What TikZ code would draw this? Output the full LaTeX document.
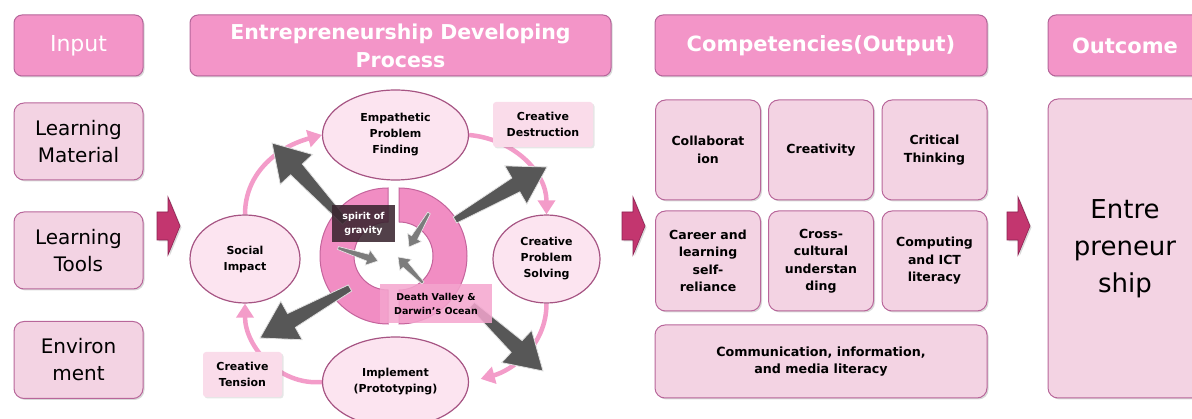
\documentclass[tikz,border=0pt]{standalone}
\usepackage{fontspec}
\setmainfont{DejaVu Sans}
\usetikzlibrary{calc,shapes.geometric,arrows.meta,shadows,backgrounds}

\definecolor{headfill}{HTML}{F395C8}
\definecolor{headline}{HTML}{B5659A}
\definecolor{itemfill}{HTML}{F3D3E3}
\definecolor{itemline}{HTML}{B8669A}
\definecolor{stagefill}{HTML}{FCE4F0}
\definecolor{stageline}{HTML}{A65483}
\definecolor{arcpink}{HTML}{F39CC9}
\definecolor{ringfill}{HTML}{F18DC3}
\definecolor{ringline}{HTML}{C4649C}
\definecolor{forcegray}{HTML}{575757}
\definecolor{pullgray}{HTML}{7C7C7C}
\definecolor{stepfill}{HTML}{C3366F}
\definecolor{stepline}{HTML}{8C2152}
\definecolor{tagfill}{HTML}{FADCEA}
\definecolor{gravfill}{HTML}{3A2530}
\definecolor{valefill}{HTML}{F4A5CE}

% tapered block arrow: [style]{tail}{tip}{tail half}{shaft half}{head half}{head length}
\newcommand{\forcearrow}[7][]{%
  \coordinate (fa-b) at ($(#3)!#7!(#2)$);
  \filldraw[#1] ($(#2)!#4!90:(#3)$) -- ($(fa-b)!#5!90:(#3)$) -- ($(fa-b)!#6!90:(#3)$) -- (#3)
    -- ($(fa-b)!#6!-90:(#3)$) -- ($(fa-b)!#5!-90:(#3)$) -- ($(#2)!#4!-90:(#3)$) -- cycle;
}

\begin{document}
\begin{tikzpicture}[x=1pt, y=1pt,
  head/.style={draw=headline, line width=1pt, fill=headfill, rounded corners=8pt, text=white,
    align=center, inner sep=0pt, drop shadow={shadow xshift=1.5pt, shadow yshift=-1.5pt, opacity=0.3}},
  item/.style={draw=itemline, line width=1pt, fill=itemfill, rounded corners=10pt, align=center,
    inner sep=0pt, drop shadow={shadow xshift=1.5pt, shadow yshift=-1.5pt, opacity=0.3}},
  skill/.style={item, font=\bfseries\fontsize{12.5}{17.5}\selectfont},
  stepper/.style={draw=stepline, fill=stepfill, line width=0.6pt,
    drop shadow={shadow xshift=1.5pt, shadow yshift=-1.5pt, opacity=0.3}},
  stage/.style={ellipse, draw=stageline, line width=1.2pt, fill=stagefill, align=center, inner sep=1pt,
    font=\bfseries\fontsize{11}{16}\selectfont},
  roundarc/.style={draw=arcpink, line width=4.5pt, -{Triangle[length=14pt, width=17pt]}},
  ring/.style={draw=ringline, line width=1pt, fill=ringfill},
  force/.style={fill=forcegray, draw=white!75!gray, line width=0.8pt},
  pull/.style={fill=pullgray, draw=white!85!gray, line width=0.6pt},
  tag/.style={fill=tagfill, rounded corners=3pt, align=center, inner sep=0pt, minimum height=45pt,
    font=\bfseries\fontsize{11}{16}\selectfont,
    drop shadow={shadow xshift=1.5pt, shadow yshift=-1.5pt, opacity=0.2}}]
  \useasboundingbox (0,0) rectangle (1192,-419);

  % ---- column headers ----
  \node[head, minimum width=129pt, minimum height=61pt, font=\fontsize{22}{26}\selectfont]
    (input) at (78.5,-45.5) {Input};
  \node[head, minimum width=421pt, minimum height=61pt, font=\bfseries\fontsize{20.5}{28}\selectfont]
    (process) at (400.5,-45.5) {Entrepreneurship Developing\\Process};
  \node[head, minimum width=332pt, minimum height=61pt, font=\bfseries\fontsize{21}{26}\selectfont]
    (output) at (821,-45.5) {Competencies(Output)};
  \node[head, minimum width=154pt, minimum height=61pt, font=\bfseries\fontsize{21}{26}\selectfont]
    (outcome) at (1125,-45.5) {Outcome};

  % ---- inputs ----
  \foreach \n/\yc/\t in {material/141.5/{Learning\\Material}, tools/250.5/{Learning\\Tools},
    environ/360/{Environ\\ment}} {
    \node[item, minimum width=129pt, minimum height=77pt, font=\fontsize{20}{27}\selectfont]
      (\n) at (78.5,-\yc) {\t};
  }

  % ---- block arrows between the columns ----
  \foreach \xl in {157, 622, 1007} {
    \filldraw[stepper] (\xl,-212) -- ++(11,0) -- ++(0,15) -- ++(12,-29) -- ++(-12,-29)
      -- ++(0,15) -- ++(-11,0) -- cycle;
  }

  % ---- competencies ----
  \foreach \n/\xc/\yc/\t in {collab/708/150/{Collaborat\\ion}, create/821/150/{Creativity},
    critical/934.5/150/{Critical\\Thinking}, career/708/261/{Career and\\learning\\self-\\reliance},
    cross/821/261/{Cross-\\cultural\\understan\\ding}, compute/934.5/261/{Computing\\and ICT\\literacy}} {
    \node[skill, minimum width=105pt, minimum height=100pt] (\n) at (\xc,-\yc) {\t};
  }
  \node[skill, minimum width=332pt, minimum height=73pt, font=\bfseries\fontsize{12.7}{17.5}\selectfont]
    (media) at (821,-361.5) {Communication, information,\\and media literacy};

  % ---- outcome ----
  \node[item, minimum width=154pt, minimum height=299pt, font=\fontsize{26}{37}\selectfont]
    (entre) at (1125,-248.5) {Entre\\preneur\\ship};

  % ---- developing cycle ----
  \node[stage, minimum width=146pt, minimum height=90pt] (find) at (395.5,-135) {Empathetic\\Problem\\Finding};
  \node[stage, minimum width=107pt, minimum height=88pt] (solve) at (546.5,-259) {Creative\\Problem\\Solving};
  \node[stage, minimum width=146pt, minimum height=90pt] (proto) at (395.5,-382) {Implement\\(Prototyping)};
  \node[stage, minimum width=110pt, minimum height=88pt] (impact) at (245,-259) {Social\\Impact};
  \begin{scope}[on background layer]
    \draw[roundarc] (impact.north) to[out=90, in=195] (find.west);
    \draw[roundarc] (find.east) to[out=-5, in=90] (solve.north);
    \draw[roundarc, shorten >=12pt] (solve.south) to[out=-90, in=15] (proto.east);
    \draw[roundarc] (proto.west) to[out=185, in=-90] (impact.south);
  \end{scope}

  % ---- split ring ----
  \draw[ring] (388,-188) arc[start angle=90, end angle=270, radius=68] -- ++(0,34)
    arc[start angle=270, end angle=90, radius=34] -- cycle;
  \draw[ring] (399,-188) arc[start angle=90, end angle=-90, radius=68] -- ++(0,34)
    arc[start angle=-90, end angle=90, radius=34] -- cycle;

  % ---- forces out of the ring ----
  \coordinate (nwT) at (345,-222);  \coordinate (nwP) at (272,-143);
  \coordinate (neT) at (455,-220);  \coordinate (neP) at (547,-167);
  \coordinate (swT) at (350,-288);  \coordinate (swP) at (260,-338);
  \coordinate (seT) at (472,-305);  \coordinate (seP) at (543,-371);
  \foreach \a in {nw, ne, sw, se} {
    \forcearrow[force]{\a T}{\a P}{3.5pt}{8pt}{22pt}{36pt}
  }
  % ---- pulls into the ring ----
  \coordinate (s1T) at (338,-248);  \coordinate (s1P) at (378,-261);
  \coordinate (s2T) at (429,-213);  \coordinate (s2P) at (409,-247);
  \coordinate (s3T) at (423,-283);  \coordinate (s3P) at (398,-257);
  \foreach \a in {s1, s2, s3} {
    \forcearrow[pull]{\a T}{\a P}{1.5pt}{3.5pt}{8pt}{11pt}
  }

  % ---- labels ----
  \node[fill=gravfill, fill opacity=0.88, text opacity=1, text=white, align=center, inner sep=0pt,
    minimum width=63pt, minimum height=37pt, font=\bfseries\fontsize{9.5}{14}\selectfont]
    (gravity) at (363.5,-223.5) {spirit of\\gravity};
  \node[fill=valefill, fill opacity=0.85, text opacity=1, align=center, inner sep=0pt,
    minimum width=112pt, minimum height=39pt, font=\bfseries\fontsize{9.5}{14}\selectfont]
    (valley) at (436,-303.5) {Death Valley \&\\Darwin's Ocean};
  \node[tag, minimum width=100pt] (destruct) at (543,-124.5) {Creative\\Destruction};
  \node[tag, minimum width=79pt] (tension) at (242.5,-374.5) {Creative\\Tension};
\end{tikzpicture}
\end{document}
